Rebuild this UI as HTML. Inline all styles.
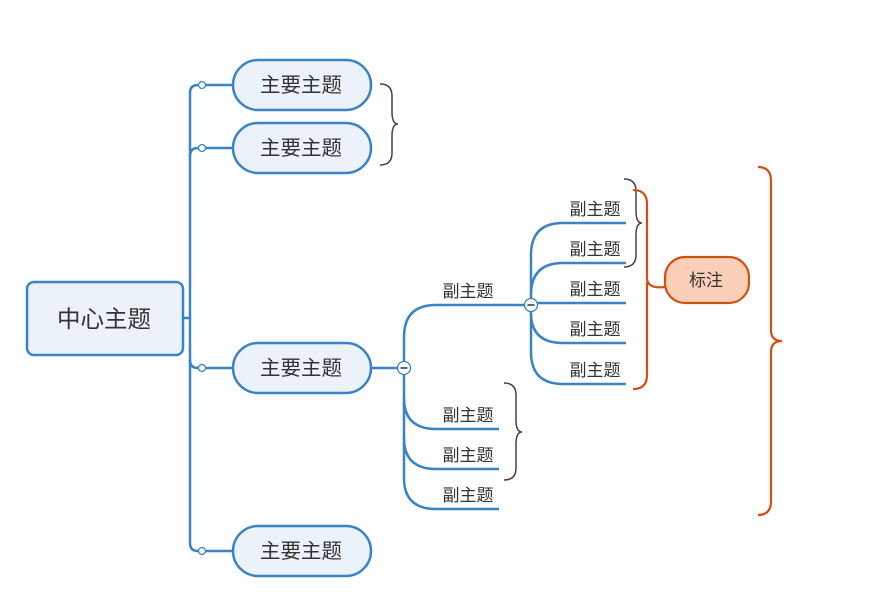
<!DOCTYPE html>
<html><head><meta charset="utf-8"><style>
html,body{margin:0;padding:0;background:#fff;width:896px;height:607px;overflow:hidden}
text{font-family:"Liberation Sans","Noto Sans CJK SC",sans-serif;fill:#333}
</style></head><body>
<svg width="896" height="607" viewBox="0 0 896 607" xmlns="http://www.w3.org/2000/svg">
<g fill="none" stroke="#3A83C4" stroke-width="2.5">
<path d="M183 318 H190"/>
<path d="M233 85 H198 Q190 85 190 93 V543 Q190 551 198 551 H233"/>
<path d="M233 148 H198 Q190 148 190 156"/>
<path d="M233 368 H198 Q190 368 190 360"/>
<path d="M371 368 H404"/>
<path d="M531 305 H436 Q404 305 404 337 V478 Q404 509 436 509 H499"/>
<path d="M404 398 Q404 429 436 429 H499"/>
<path d="M404 438 Q404 469 436 469 H499"/>
<path d="M626 223 H563 Q531 223 531 255 V352 Q531 384 563 384 H626"/>
<path d="M626 263 H563 Q531 263 531 295"/>
<path d="M531 303 H626"/>
<path d="M531 313 Q531 343 563 343 H626"/>
</g>
<g fill="#fff" stroke="#3A83C4" stroke-width="1.3">
<circle cx="202" cy="85" r="3.5"/><circle cx="202" cy="148" r="3.5"/>
<circle cx="202" cy="368" r="3.5"/><circle cx="202" cy="551" r="3.5"/>
<circle cx="404" cy="368" r="6.5"/><circle cx="531" cy="305" r="6.5"/>
</g>
<g stroke="#333" stroke-width="1.5"><path d="M400.5 368 H407.5"/><path d="M527.5 305 H534.5"/></g>
<g fill="none" stroke="#444" stroke-width="1.5">
<path d="M380 84 Q392 84 392 96 V112 Q392 124 398 124 Q392 124 392 136 V153 Q392 165 380 165"/>
<path d="M504 383 Q516 383 516 395 V420 Q516 432 522 432 Q516 432 516 444 V468 Q516 480 504 480"/>
<path d="M624 179 Q636 179 636 191 V211 Q636 223 642 223 Q636 223 636 235 V255 Q636 267 624 267"/>
</g>
<g fill="none" stroke="#D05014" stroke-width="2.2">
<path d="M633 190 Q647 190 647 204 V278 Q647 289 665 287"/>
<path d="M647 282 Q647 292 647 300 V375 Q647 389 633 389"/>
<path d="M758 167 Q771 167 771 181 V330 Q771 341 782 341 Q771 341 771 352 V501 Q771 515 758 515"/>
</g>
<g stroke="#3A83C4" stroke-width="2.5" fill="#EBF2FA">
<rect x="27" y="282" width="156" height="73" rx="7"/>
<rect x="233" y="60" width="138" height="50" rx="25"/>
<rect x="233" y="123" width="138" height="50" rx="25"/>
<rect x="233" y="343" width="138" height="50" rx="25"/>
<rect x="233" y="526" width="138" height="50" rx="25"/>
</g>
<rect x="665" y="257" width="84" height="46" rx="20" fill="#FBCFB8" stroke="#D05014" stroke-width="2.2"/>
<g text-anchor="middle">
<text x="104" y="327" font-size="23.5">中心主题</text>
<text x="301" y="92" font-size="20.5">主要主题</text>
<text x="301" y="155" font-size="20.5">主要主题</text>
<text x="301" y="375" font-size="20.5">主要主题</text>
<text x="301" y="558" font-size="20.5">主要主题</text>
<text x="706" y="286" font-size="17">标注</text>
<g font-size="17">
<text x="468" y="297">副主题</text>
<text x="468" y="421">副主题</text>
<text x="468" y="461">副主题</text>
<text x="468" y="501">副主题</text>
<text x="595" y="215">副主题</text>
<text x="595" y="255">副主题</text>
<text x="595" y="295">副主题</text>
<text x="595" y="335">副主题</text>
<text x="595" y="376">副主题</text>
</g>
</g>
</svg>
</body></html>
